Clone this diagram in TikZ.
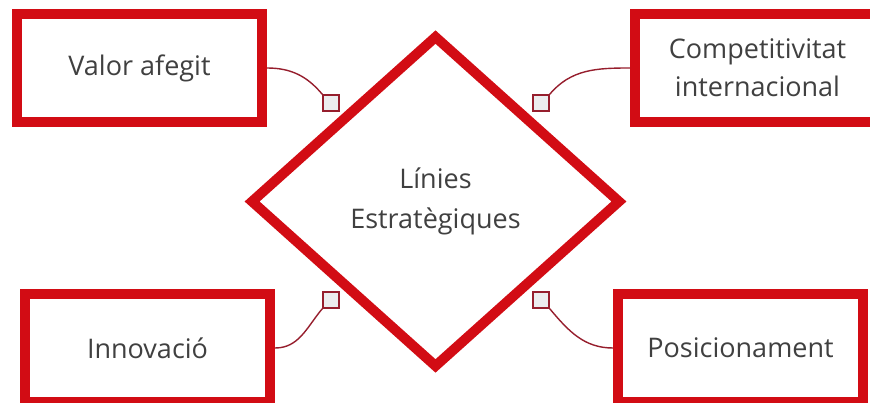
\documentclass[tikz,border=0pt]{standalone}
\usepackage{fontspec}
\setmainfont{Open Sans}
\usetikzlibrary{shapes.geometric}
\definecolor{linered}{RGB}{210,12,20}
\definecolor{linkred}{RGB}{150,30,45}
\definecolor{textgray}{RGB}{64,64,64}
\definecolor{tabgray}{RGB}{236,236,238}

\begin{document}
\begin{tikzpicture}[x=1pt,y=-1pt,
  box/.style={draw=linered,line width=10pt,minimum width=245pt,minimum height=108pt,
    align=center,text=textgray,font=\fontsize{27}{38}\selectfont},
  hub/.style={diamond,draw=linered,line width=10pt,minimum width=371pt,minimum height=333pt,
    inner sep=0pt,align=center,text=textgray,font=\fontsize{27}{40}\selectfont},
  tab/.style={draw=linkred,fill=tabgray,line width=1.4pt,minimum size=16pt,inner sep=0pt},
  link/.style={draw=linkred,line width=1.4pt}]
\useasboundingbox (0,0) rectangle (870,403);
\node[hub] (li) at (435.5,201.5) {Línies\\Estratègiques};
\node[box] (va) at (139.5,68) {Valor afegit};
\node[box] (ci) at (757.5,68) {Competitivitat\\internacional};
\node[box] (in) at (147.5,348) {Innovació};
\node[box] (po) at (740.5,348) {Posicionament};
\node[tab] (ta) at (331,103) {};\node[tab] (tb) at (541,103) {};
\node[tab] (tc) at (331,300) {};\node[tab] (td) at (541,300) {};
\draw[link] (va.east) to[out=0,in=130] (ta.north west);
\draw[link] (ci.west) to[out=180,in=50] (tb.north east);
\draw[link] (in.east) to[out=0,in=-130] (tc.south west);
\draw[link] (po.west) to[out=180,in=-50] (td.south east);
\end{tikzpicture}
\end{document}
